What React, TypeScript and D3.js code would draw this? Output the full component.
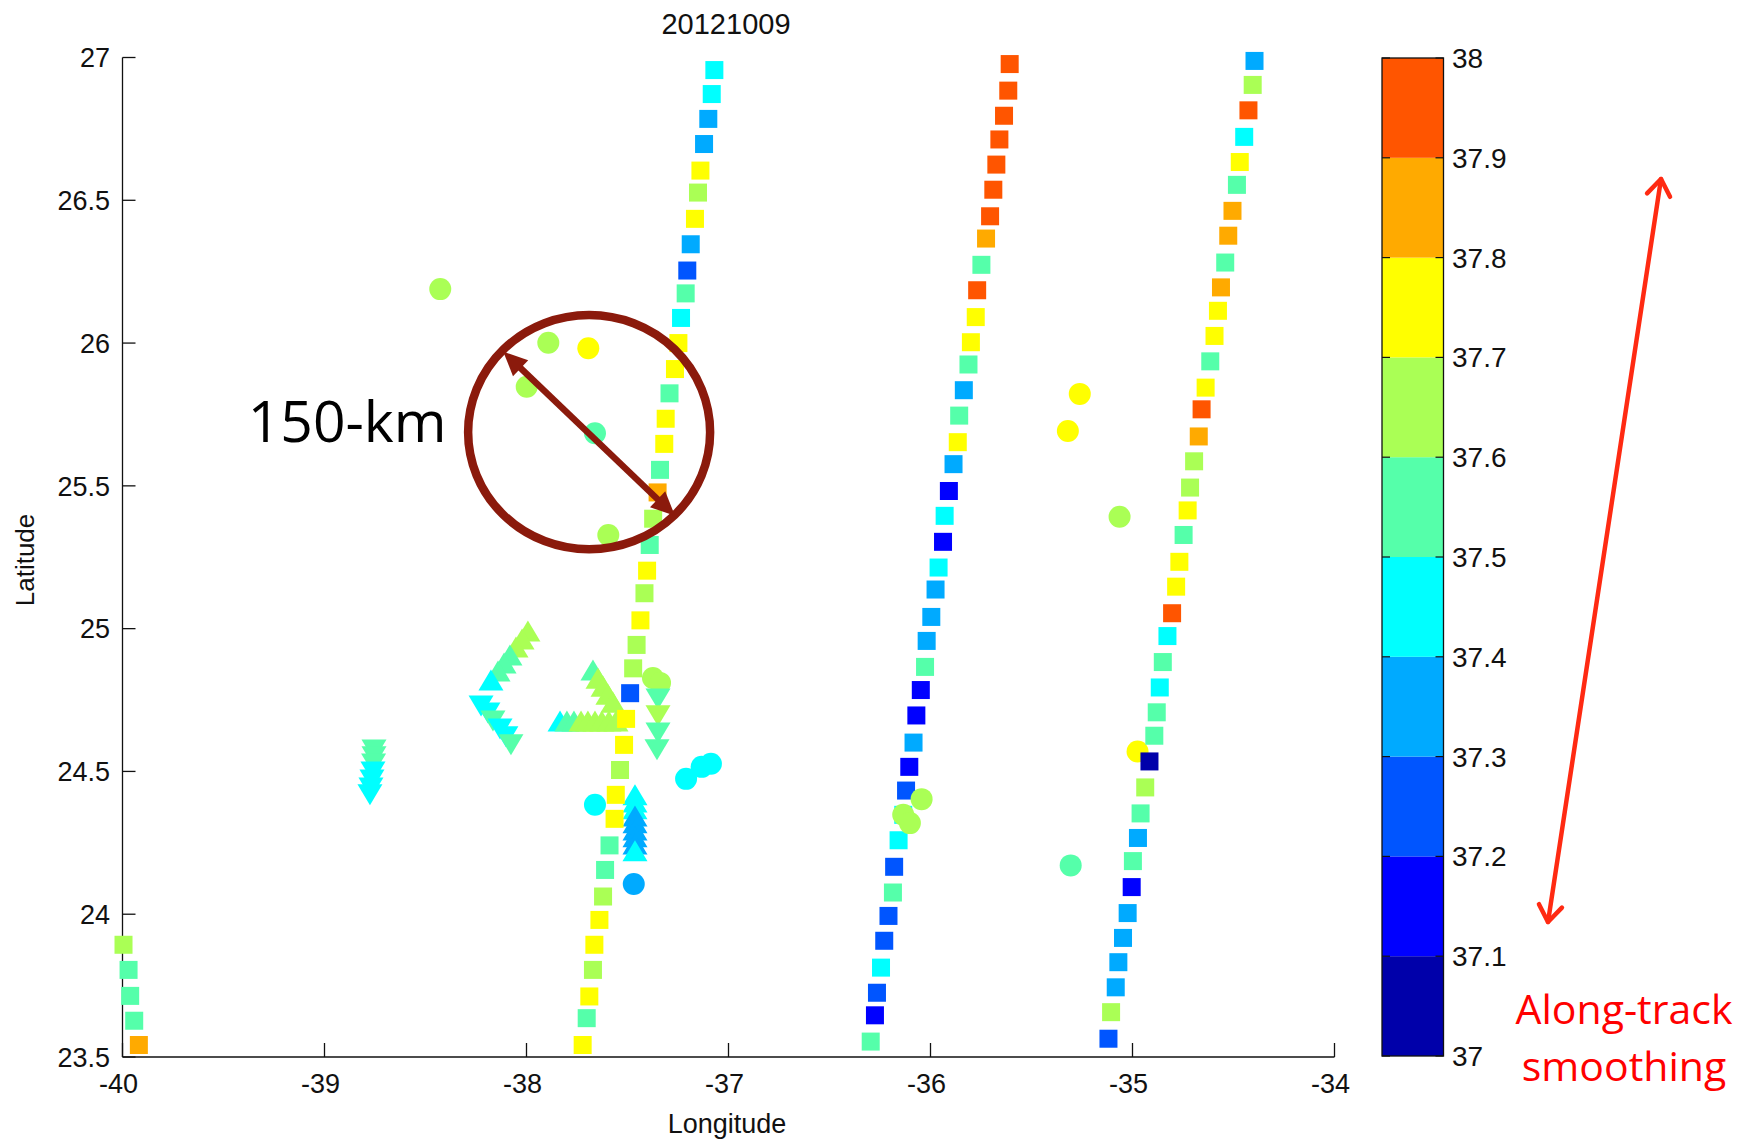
import React from "react";
import * as d3 from "d3";

const W = 1743;
const H = 1143;

const X_TICKS = [-40, -39, -38, -37, -36, -35, -34];
const X_TICK_LABELS = ["-40", "-39", "-38", "-37", "-36", "-35", "-34"];
const Y_TICKS = [23.5, 24, 24.5, 25, 25.5, 26, 26.5, 27];
const Y_TICK_LABELS = ["23.5", "24", "24.5", "25", "25.5", "26", "26.5", "27"];
const CB_TICKS = [37, 37.1, 37.2, 37.3, 37.4, 37.5, 37.6, 37.7, 37.8, 37.9, 38];
const CB_LABELS = ["37", "37.1", "37.2", "37.3", "37.4", "37.5", "37.6", "37.7", "37.8", "37.9", "38"];
const JET10 = ["#0000aa", "#0000ff", "#0055ff", "#00aaff", "#00ffff", "#55ffaa", "#aaff55", "#ffff00", "#ffaa00", "#ff5500"];

const TITLE = "20121009";
const X_LABEL = "Longitude";
const Y_LABEL = "Latitude";

// [lon, lat, salinity]
const track1: number[][] = [
  [-37.070, 26.956, 37.45], [-37.083, 26.872, 37.45], [-37.100, 26.785, 37.35], [-37.121, 26.697, 37.35],
  [-37.139, 26.604, 37.75], [-37.151, 26.527, 37.65], [-37.166, 26.435, 37.75], [-37.187, 26.346, 37.35],
  [-37.204, 26.254, 37.25], [-37.212, 26.174, 37.55], [-37.235, 26.088, 37.45], [-37.248, 26.000, 37.75],
  [-37.265, 25.909, 37.75], [-37.292, 25.824, 37.55], [-37.311, 25.735, 37.75], [-37.318, 25.647, 37.75],
  [-37.339, 25.556, 37.55], [-37.351, 25.477, 37.85], [-37.373, 25.385, 37.65], [-37.390, 25.293, 37.55],
  [-37.403, 25.203, 37.75], [-37.416, 25.124, 37.65], [-37.436, 25.029, 37.75], [-37.455, 24.943, 37.65],
  [-37.472, 24.861, 37.65], [-37.487, 24.774, 37.25], [-37.507, 24.684, 37.75], [-37.517, 24.593, 37.75],
  [-37.537, 24.505, 37.65], [-37.558, 24.418, 37.75], [-37.564, 24.334, 37.75], [-37.589, 24.241, 37.55],
  [-37.611, 24.155, 37.55], [-37.621, 24.062, 37.65], [-37.639, 23.980, 37.75], [-37.664, 23.893, 37.75],
  [-37.671, 23.805, 37.65], [-37.689, 23.712, 37.75], [-37.702, 23.636, 37.55], [-37.722, 23.542, 37.75],
];

const track2: number[][] = [
  [-35.608, 26.977, 37.95], [-35.615, 26.884, 37.95], [-35.636, 26.796, 37.95], [-35.659, 26.713, 37.95],
  [-35.674, 26.625, 37.95], [-35.689, 26.537, 37.95], [-35.705, 26.444, 37.95], [-35.725, 26.366, 37.85],
  [-35.748, 26.274, 37.55], [-35.769, 26.185, 37.95], [-35.776, 26.091, 37.75], [-35.800, 26.003, 37.75],
  [-35.812, 25.925, 37.55], [-35.835, 25.835, 37.35], [-35.858, 25.746, 37.55], [-35.865, 25.653, 37.75],
  [-35.886, 25.576, 37.35], [-35.909, 25.482, 37.15], [-35.930, 25.395, 37.45], [-35.938, 25.304, 37.15],
  [-35.960, 25.214, 37.45], [-35.975, 25.137, 37.35], [-35.996, 25.041, 37.35], [-36.019, 24.957, 37.35],
  [-36.027, 24.866, 37.55], [-36.048, 24.785, 37.15], [-36.070, 24.696, 37.15], [-36.084, 24.601, 37.35],
  [-36.105, 24.516, 37.15], [-36.121, 24.433, 37.25], [-36.135, 24.348, 37.45], [-36.158, 24.259, 37.45],
  [-36.180, 24.166, 37.25], [-36.186, 24.076, 37.55], [-36.208, 23.994, 37.25], [-36.229, 23.907, 37.25],
  [-36.245, 23.813, 37.45], [-36.265, 23.725, 37.25], [-36.275, 23.646, 37.15], [-36.296, 23.554, 37.55],
];

const track3: number[][] = [
  [-34.396, 26.988, 37.35], [-34.405, 26.904, 37.65], [-34.426, 26.815, 37.95], [-34.447, 26.722, 37.45],
  [-34.469, 26.634, 37.75], [-34.483, 26.554, 37.55], [-34.505, 26.463, 37.85], [-34.526, 26.376, 37.85],
  [-34.541, 26.282, 37.55], [-34.562, 26.195, 37.85], [-34.577, 26.113, 37.75], [-34.594, 26.025, 37.75],
  [-34.615, 25.936, 37.55], [-34.638, 25.844, 37.75], [-34.658, 25.768, 37.95], [-34.672, 25.673, 37.85],
  [-34.695, 25.586, 37.65], [-34.715, 25.494, 37.65], [-34.727, 25.414, 37.75], [-34.747, 25.328, 37.55],
  [-34.768, 25.234, 37.75], [-34.784, 25.147, 37.75], [-34.804, 25.054, 37.95], [-34.827, 24.974, 37.45],
  [-34.850, 24.883, 37.55], [-34.865, 24.794, 37.45], [-34.880, 24.707, 37.55], [-34.892, 24.625, 37.55],
  [-34.916, 24.535, 37.05], [-34.937, 24.444, 37.65], [-34.960, 24.353, 37.55], [-34.973, 24.267, 37.35],
  [-34.998, 24.186, 37.55], [-35.004, 24.095, 37.15], [-35.024, 24.004, 37.35], [-35.047, 23.917, 37.35],
  [-35.070, 23.832, 37.35], [-35.083, 23.744, 37.35], [-35.106, 23.657, 37.65], [-35.119, 23.564, 37.25],
];

const trackWest: number[][] = [
  [-39.995, 23.893, 37.65], [-39.970, 23.805, 37.55], [-39.962, 23.714, 37.55],
  [-39.942, 23.627, 37.55], [-39.919, 23.542, 37.85],
];

const floats: number[][] = [
  [-38.427, 26.189, 37.65], [-37.892, 26.001, 37.65], [-37.694, 25.982, 37.75], [-37.999, 25.847, 37.65],
  [-37.661, 25.684, 37.55], [-37.595, 25.328, 37.65], [-35.261, 25.822, 37.75], [-35.320, 25.692, 37.75],
  [-35.064, 25.392, 37.65], [-36.044, 24.403, 37.65], [-36.135, 24.348, 37.65], [-36.102, 24.319, 37.65],
  [-35.306, 24.171, 37.55], [-34.975, 24.570, 37.75], [-37.374, 24.827, 37.65], [-37.339, 24.810, 37.65],
  [-37.087, 24.527, 37.45], [-37.133, 24.516, 37.45], [-37.210, 24.474, 37.45], [-37.661, 24.383, 37.45],
  [-37.469, 24.106, 37.35],
];

const gliderDown: number[][] = [
  [-38.755, 24.575, 37.55], [-38.755, 24.551, 37.55], [-38.757, 24.526, 37.55], [-38.760, 24.498, 37.45],
  [-38.765, 24.470, 37.45], [-38.770, 24.442, 37.45], [-38.775, 24.418, 37.45],
  [-38.225, 24.729, 37.45], [-38.191, 24.705, 37.45], [-38.166, 24.677, 37.55], [-38.131, 24.649, 37.45],
  [-38.102, 24.621, 37.45], [-38.077, 24.593, 37.55],
  [-37.349, 24.754, 37.55], [-37.349, 24.695, 37.65], [-37.349, 24.635, 37.55], [-37.354, 24.576, 37.55],
];

const gliderUp: number[][] = [
  [-37.993, 24.992, 37.65], [-38.022, 24.964, 37.65], [-38.052, 24.936, 37.65], [-38.082, 24.908, 37.55],
  [-38.111, 24.880, 37.55], [-38.141, 24.852, 37.55], [-38.176, 24.820, 37.45],
  [-37.671, 24.855, 37.55], [-37.646, 24.826, 37.65], [-37.621, 24.798, 37.65], [-37.597, 24.770, 37.65],
  [-37.572, 24.742, 37.65],
  [-37.834, 24.677, 37.45], [-37.800, 24.677, 37.55], [-37.765, 24.677, 37.55], [-37.730, 24.677, 37.65],
  [-37.696, 24.677, 37.65], [-37.661, 24.677, 37.65], [-37.627, 24.677, 37.65], [-37.592, 24.677, 37.65],
  [-37.557, 24.677, 37.65],
  [-37.463, 24.418, 37.45], [-37.463, 24.393, 37.45], [-37.463, 24.369, 37.45], [-37.463, 24.344, 37.35],
  [-37.463, 24.320, 37.35], [-37.463, 24.295, 37.35], [-37.463, 24.271, 37.35], [-37.463, 24.246, 37.35],
  [-37.463, 24.222, 37.45],
];

// annotation (in data space): ellipse centre/radii, double arrow ends, label position
const ANNOT_ELLIPSE = { lon: -37.69, lat: 25.688, rLon: 0.599, rLat: 0.41 };
const ANNOT_ARROW = [[-38.115, 25.97], [-37.265, 25.395]];
const ANNOT_LABEL = { lon: -39.38, lat: 25.652, text: "150-km" };
const SIDE_NOTE = ["Along-track", "smoothing"];

const FONT = "'Liberation Sans', Arial, Helvetica, sans-serif";
const FONT2 = "'Open Sans', 'Noto Sans', sans-serif";

export default function App() {
  const x = d3.scaleLinear().domain([-40, -34]).range([122.5, 1334.5]);
  const y = d3.scaleLinear().domain([23.5, 27]).range([1057, 57.5]);
  const color = d3.scaleQuantize<string>().domain([37, 38]).range(JET10);
  const cbY = d3.scaleLinear().domain([37, 38]).range([1056, 58]);
  const cbX0 = 1382;
  const cbX1 = 1443.5;

  const SQ = 18;
  const R = 11;
  const TW = 25;
  const TH = 21;

  const squares = (data: number[][], key: string) =>
    data.map((d, i) => (
      <rect key={key + i} x={x(d[0]) - SQ / 2} y={y(d[1]) - SQ / 2} width={SQ} height={SQ} fill={color(d[2])} />
    ));

  const triPath = (cx: number, cy: number, up: boolean) => {
    const p = d3.path();
    if (up) {
      p.moveTo(cx, cy - TH / 2);
      p.lineTo(cx + TW / 2, cy + TH / 2);
      p.lineTo(cx - TW / 2, cy + TH / 2);
    } else {
      p.moveTo(cx, cy + TH / 2);
      p.lineTo(cx + TW / 2, cy - TH / 2);
      p.lineTo(cx - TW / 2, cy - TH / 2);
    }
    p.closePath();
    return p.toString();
  };

  const ax1 = x(ANNOT_ARROW[0][0]), ay1 = y(ANNOT_ARROW[0][1]);
  const ax2 = x(ANNOT_ARROW[1][0]), ay2 = y(ANNOT_ARROW[1][1]);
  const ang = Math.atan2(ay2 - ay1, ax2 - ax1);
  const headL = 24, headW = 11;
  const head = (tx: number, ty: number, a: number) => {
    const bx = tx - headL * Math.cos(a), by = ty - headL * Math.sin(a);
    const nx = -Math.sin(a), ny = Math.cos(a);
    return `M${tx},${ty}L${bx + nx * headW},${by + ny * headW}L${bx - nx * headW},${by - ny * headW}Z`;
  };

  const rA = [1548, 922], rB = [1661, 179];
  const rAng = Math.atan2(rB[1] - rA[1], rB[0] - rA[0]);
  const vHead = (tx: number, ty: number, a: number) => {
    const L = 20, spread = 0.62;
    const p1 = [tx - L * Math.cos(a - spread), ty - L * Math.sin(a - spread)];
    const p2 = [tx - L * Math.cos(a + spread), ty - L * Math.sin(a + spread)];
    return `M${p1[0]},${p1[1]}L${tx},${ty}L${p2[0]},${p2[1]}`;
  };

  return (
    <svg width={W} height={H} style={{ position: "absolute", left: 0, top: 0, background: "#fff" }}>
      <rect x={0} y={0} width={W} height={H} fill="#fff" />
      <text x={726} y={34} textAnchor="middle" fontFamily={FONT} fontSize={29} fill="#111">{TITLE}</text>

      <g stroke="#111" strokeWidth={1.3} fill="none">
        <line x1={x(-40)} x2={x(-34)} y1={y(23.5)} y2={y(23.5)} />
        <line x1={x(-40)} x2={x(-40)} y1={y(23.5)} y2={y(27)} />
        {X_TICKS.map((t) => (
          <line key={"xt" + t} x1={x(t)} x2={x(t)} y1={y(23.5)} y2={y(23.5) - 14} />
        ))}
        {Y_TICKS.map((t) => (
          <line key={"yt" + t} x1={x(-40)} x2={x(-40) + 13} y1={y(t)} y2={y(t)} />
        ))}
      </g>
      {X_TICKS.map((t, i) => (
        <text key={"xl" + t} x={x(t) - 4} y={1093} textAnchor="middle" fontFamily={FONT} fontSize={27} fill="#111">
          {X_TICK_LABELS[i]}
        </text>
      ))}
      {Y_TICKS.map((t, i) => (
        <text key={"yl" + t} x={110} y={y(t) + 9.7} textAnchor="end" fontFamily={FONT} fontSize={27} fill="#111">
          {Y_TICK_LABELS[i]}
        </text>
      ))}
      <text x={727} y={1133} textAnchor="middle" fontFamily={FONT} fontSize={27} fill="#111">{X_LABEL}</text>
      <text transform="translate(34,560) rotate(-90)" textAnchor="middle" fontFamily={FONT} fontSize={26} fill="#111">
        {Y_LABEL}
      </text>

      <g>{squares(track2, "t2")}</g>
      <g>
        {floats.map((d, i) => (
          <circle key={"c" + i} cx={x(d[0])} cy={y(d[1])} r={R} fill={color(d[2])} />
        ))}
      </g>
      <g>
        {gliderUp.map((d, i) => (
          <path key={"tu" + i} d={triPath(x(d[0]), y(d[1]), true)} fill={color(d[2])} />
        ))}
        {gliderDown.map((d, i) => (
          <path key={"td" + i} d={triPath(x(d[0]), y(d[1]), false)} fill={color(d[2])} />
        ))}
      </g>
      <g>{squares(track1, "t1")}</g>
      <g>{squares(track3, "t3")}</g>
      <g>{squares(trackWest, "tw")}</g>

      <g>
        {JET10.map((c, i) => (
          <rect key={"cb" + i} x={cbX0} y={cbY(CB_TICKS[i + 1])} width={cbX1 - cbX0} height={cbY(CB_TICKS[i]) - cbY(CB_TICKS[i + 1])} fill={c} />
        ))}
        <rect x={cbX0} y={cbY(38)} width={cbX1 - cbX0} height={cbY(37) - cbY(38)} fill="none" stroke="#111" strokeWidth={1.3} />
        {CB_TICKS.map((t) => (
          <g key={"cbt" + t} stroke="#111" strokeWidth={1.2}>
            <line x1={cbX0} x2={cbX0 + 8} y1={cbY(t)} y2={cbY(t)} />
            <line x1={cbX1 - 8} x2={cbX1} y1={cbY(t)} y2={cbY(t)} />
          </g>
        ))}
        {CB_TICKS.map((t, i) => (
          <text key={"cbl" + t} x={1452} y={cbY(t) + 10} fontFamily={FONT} fontSize={28} fill="#111">
            {CB_LABELS[i]}
          </text>
        ))}
      </g>

      <g>
        <ellipse
          cx={x(ANNOT_ELLIPSE.lon)}
          cy={y(ANNOT_ELLIPSE.lat)}
          rx={x(ANNOT_ELLIPSE.lon + ANNOT_ELLIPSE.rLon) - x(ANNOT_ELLIPSE.lon)}
          ry={y(ANNOT_ELLIPSE.lat) - y(ANNOT_ELLIPSE.lat + ANNOT_ELLIPSE.rLat)}
          fill="none"
          stroke="#8b1a0c"
          strokeWidth={8.5}
        />
        <line
          x1={ax1 + (headL - 4) * Math.cos(ang)}
          y1={ay1 + (headL - 4) * Math.sin(ang)}
          x2={ax2 - (headL - 4) * Math.cos(ang)}
          y2={ay2 - (headL - 4) * Math.sin(ang)}
          stroke="#8b1a0c"
          strokeWidth={6.5}
        />
        <path d={head(ax2, ay2, ang)} fill="#8b1a0c" />
        <path d={head(ax1, ay1, ang + Math.PI)} fill="#8b1a0c" />
        <text x={x(ANNOT_LABEL.lon)} y={y(ANNOT_LABEL.lat)} fontFamily={FONT2} fontSize={57} fill="#000">
          {ANNOT_LABEL.text}
        </text>
      </g>

      <g>
        <line x1={rA[0]} y1={rA[1]} x2={rB[0]} y2={rB[1]} stroke="#ff2a12" strokeWidth={4.5} strokeLinecap="round" />
        <path d={vHead(rB[0], rB[1], rAng)} fill="none" stroke="#ff2a12" strokeWidth={4.5} strokeLinecap="round" strokeLinejoin="round" />
        <path d={vHead(rA[0], rA[1], rAng + Math.PI)} fill="none" stroke="#ff2a12" strokeWidth={4.5} strokeLinecap="round" strokeLinejoin="round" />
        <text x={1624} y={1024} textAnchor="middle" fontFamily={FONT2} fontSize={41} fill="#ff0000">{SIDE_NOTE[0]}</text>
        <text x={1624} y={1081} textAnchor="middle" fontFamily={FONT2} fontSize={41} fill="#ff0000">{SIDE_NOTE[1]}</text>
      </g>
    </svg>
  );
}
